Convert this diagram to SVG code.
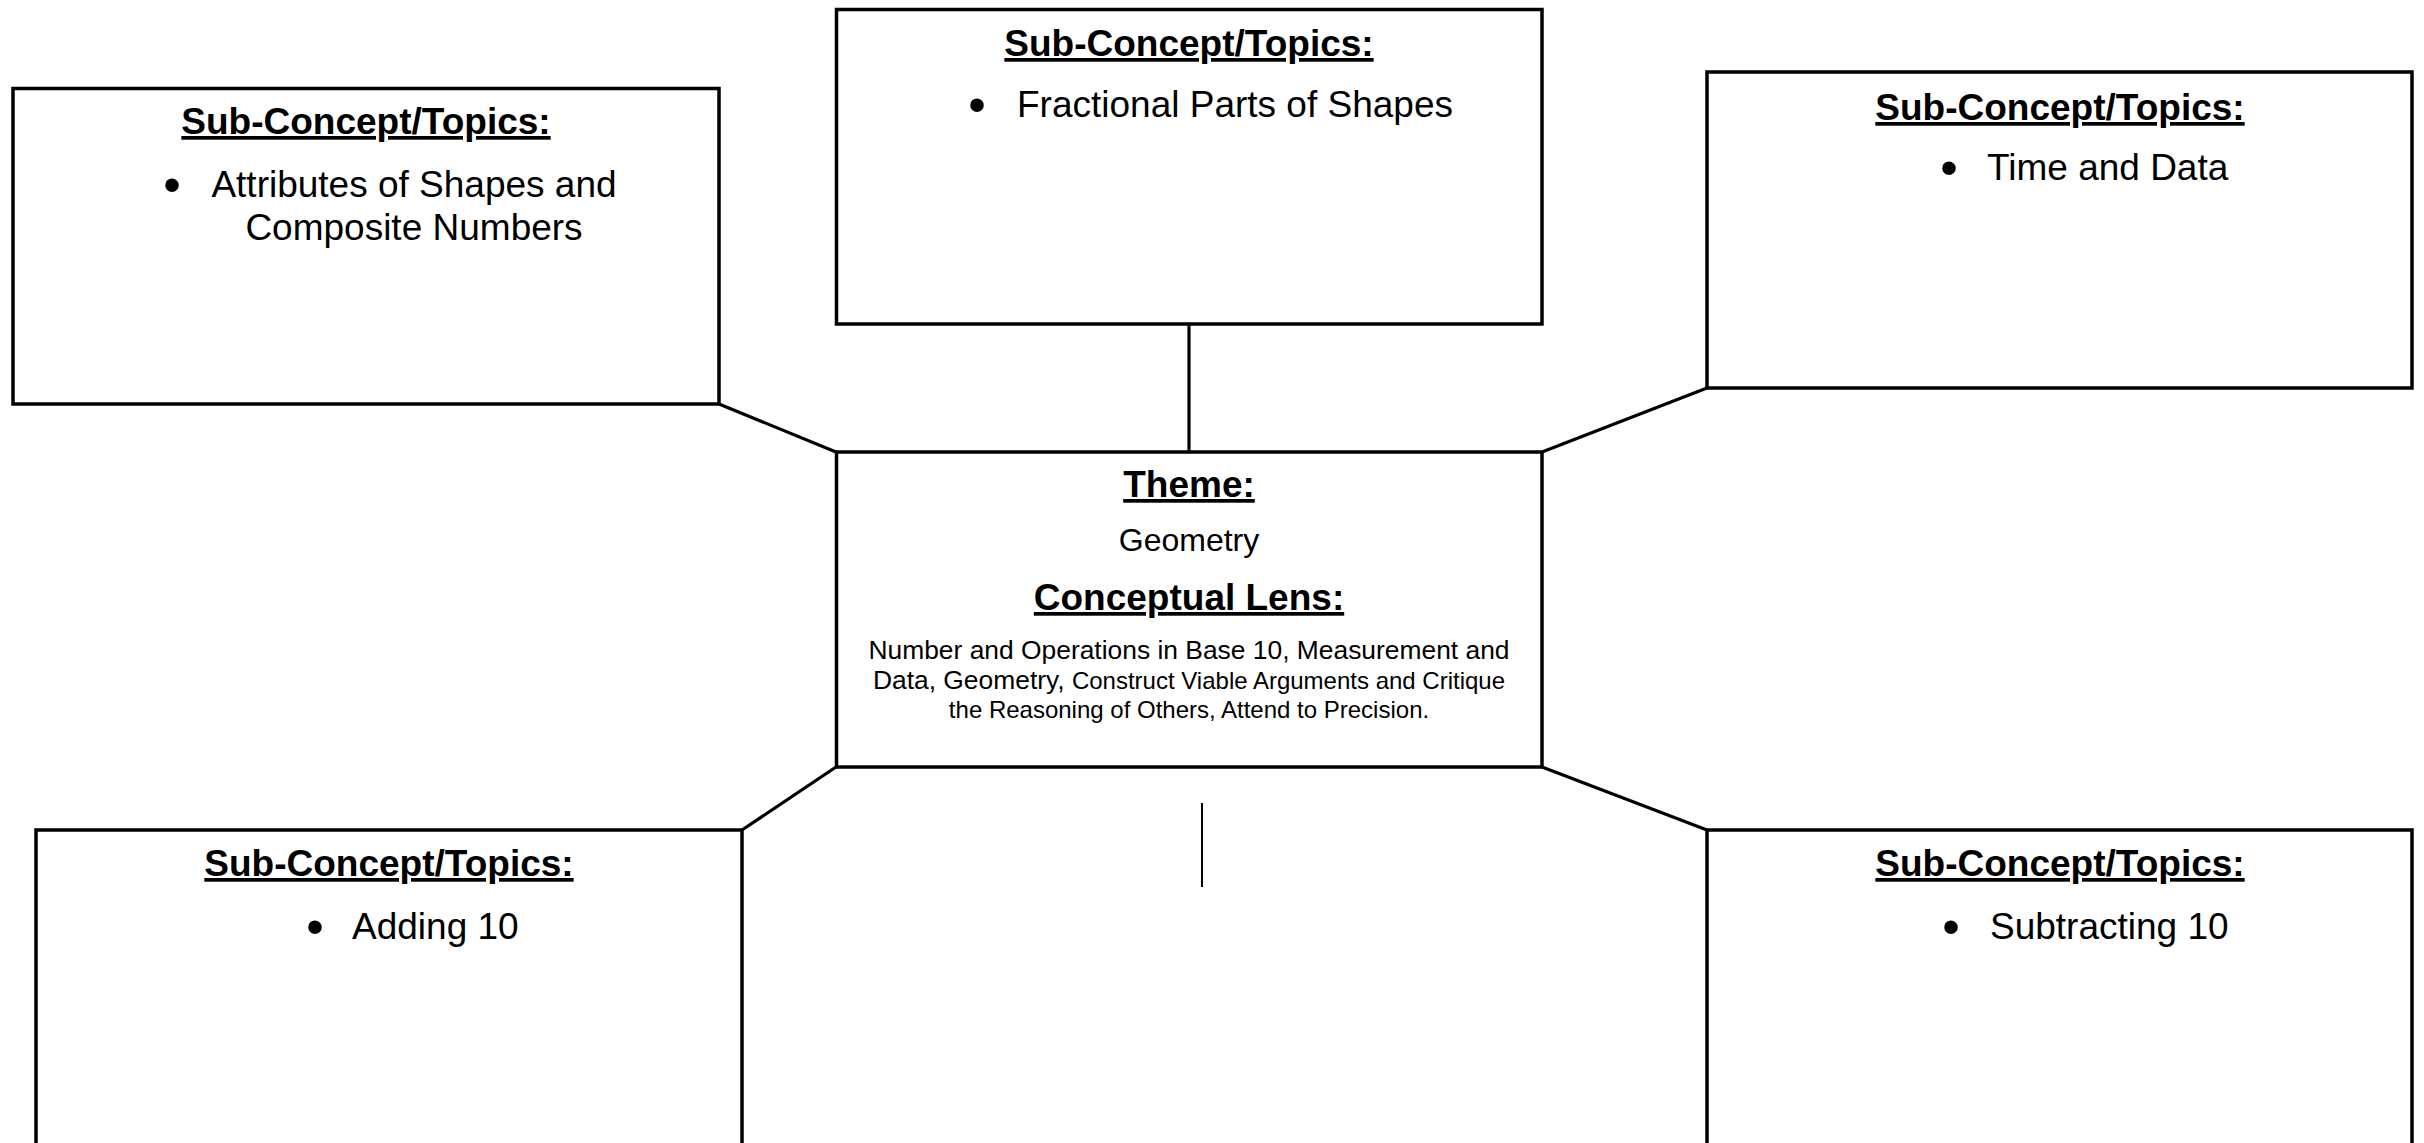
<svg xmlns="http://www.w3.org/2000/svg" width="2424" height="1143" viewBox="0 0 2424 1143">
<style>
.box{fill:#fff;stroke:#000;stroke-width:3.5}
.con{stroke:#000;stroke-width:3.2;fill:none}
.thin{stroke:#000;stroke-width:2;fill:none}
text{font-family:"Liberation Sans",Arial,sans-serif;fill:#000}
.title{font-size:37px;font-weight:bold;text-decoration:underline;text-anchor:middle}
.item{font-size:37px}
.bul{font-size:50px;text-anchor:middle}
.geo{font-size:32px;text-anchor:middle}
.para{font-size:26.4px;text-anchor:middle}
.sm{font-size:24px}
</style>
<rect width="2424" height="1143" fill="#fff"/>
<g id="connectors">
<line class="con" x1="719" y1="404" x2="836" y2="452"/>
<line class="con" x1="1189" y1="324" x2="1189" y2="452"/>
<line class="con" x1="1707" y1="388" x2="1542" y2="452"/>
<line class="con" x1="836" y1="767" x2="742" y2="830"/>
<line class="con" x1="1542" y1="767" x2="1707" y2="830"/>
<line class="thin" x1="1202" y1="803" x2="1202" y2="887"/>
</g>
<g id="node-left-top">
<rect class="box" x="13" y="88.5" width="706" height="315.5"/>
<text class="title" x="366" y="134">Sub-Concept/Topics:</text>
<text class="bul" x="172" y="202">•</text>
<text class="item" x="414" y="197" text-anchor="middle">Attributes of Shapes and</text>
<text class="item" x="414" y="240" text-anchor="middle">Composite Numbers</text>
</g>
<g id="node-top-center">
<rect class="box" x="836.5" y="9.5" width="705.5" height="314.5"/>
<text class="title" x="1189" y="56">Sub-Concept/Topics:</text>
<text class="bul" x="977" y="122">•</text>
<text class="item" x="1017" y="117">Fractional Parts of Shapes</text>
</g>
<g id="node-top-right">
<rect class="box" x="1707" y="72" width="705" height="316"/>
<text class="title" x="2060" y="120">Sub-Concept/Topics:</text>
<text class="bul" x="1949" y="185">•</text>
<text class="item" x="1987" y="180">Time and Data</text>
</g>
<g id="node-center">
<rect class="box" x="836.5" y="452" width="705.5" height="315"/>
<text class="title" x="1189" y="497">Theme:</text>
<text class="geo" x="1189" y="551">Geometry</text>
<text class="title" x="1189" y="610">Conceptual Lens:</text>
<text class="para" x="1189" y="659">Number and Operations in Base 10, Measurement and</text>
<text class="para" x="1189" y="689">Data, Geometry, <tspan class="sm">Construct Viable Arguments and Critique</tspan></text>
<text class="para sm" x="1189" y="718">the Reasoning of Others, Attend to Precision.</text>
</g>
<g id="node-bottom-left">
<rect class="box" x="36" y="830" width="706" height="340"/>
<text class="title" x="389" y="876">Sub-Concept/Topics:</text>
<text class="bul" x="315" y="944">•</text>
<text class="item" x="352" y="939">Adding 10</text>
</g>
<g id="node-bottom-right">
<rect class="box" x="1707" y="830" width="705" height="340"/>
<text class="title" x="2060" y="876">Sub-Concept/Topics:</text>
<text class="bul" x="1951" y="944">•</text>
<text class="item" x="1990" y="939">Subtracting 10</text>
</g>
</svg>
